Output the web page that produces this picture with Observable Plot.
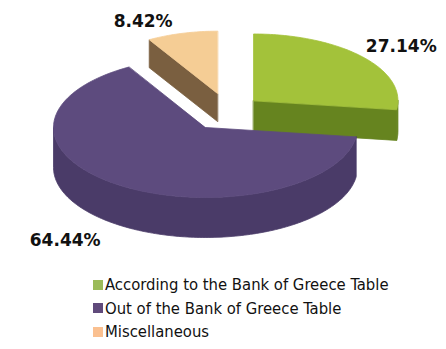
<!DOCTYPE html>
<html>
<head>
<meta charset="utf-8">
<script src="https://cdn.jsdelivr.net/npm/d3@7"></script>
<script src="https://cdn.jsdelivr.net/npm/@observablehq/plot@0.6"></script>
<style>
  html, body { margin: 0; padding: 0; background: #fff; }
  #chart svg { display: block; }
  .legend { margin: 11px 0 0 93px; font-family: "DejaVu Sans Condensed", "DejaVu Sans", sans-serif; font-stretch: condensed; font-size: 16.5px; color: #111; }
  .legend .item { height: 23.5px; line-height: 23.5px; display: flex; align-items: center; }
  .legend .sw { width: 10px; height: 10px; margin-right: 2px; flex: none; }
</style>
</head>
<body>
<div id="chart"></div>
<script>
// ---- data ----
const categories = ["According to the Bank of Greece Table", "Out of the Bank of Greece Table", "Miscellaneous"];
const values = [27.14, 64.44, 8.42];
const valueLabels = ["27.14%", "64.44%", "8.42%"];

// ---- styles / layout ----
const topColors = ["#a3c23a", "#5d4b7e", "#f5cd95"];
const sideColors = ["#66841f", "#4a3b68", "#7a5f40"];
const legendColors = ["#9bbb59", "#604a7b", "#fac090"];
const W = 446, H = 262;
const cx = 205, cy = 127, rx = 152, ry = 70;   // pixel layout of the unit ellipse
const sliceScale = [0.95, 1, 0.89];             // perspective shrink per slice
const sliceDepth = [31, 40, 28].map(d => d / ry); // in y units
const explode = [[0.316, -0.386], [0, 0], [0.079, -0.486]]; // per slice, unit coords
const labelShift = [[39, -10], [-56, 15], [-39, -12]];       // px
const drawOrder = [2, 0, 1];

const arcs = d3.pie().sort(null).startAngle(0).endAngle(2 * Math.PI)(values);

function rimPts(ox, oy, s, t0, t1, dz) {
  const n = Math.max(2, Math.ceil(Math.abs(t1 - t0) / 0.02));
  const pts = [];
  for (let i = 0; i <= n; i++) {
    const t = t0 + (t1 - t0) * i / n;
    pts.push({x: ox + s * Math.sin(t), y: oy - s * Math.cos(t) + dz});
  }
  return pts;
}

const marks = [];
for (const i of drawOrder) {
  const a = arcs[i];
  const [ox, oy] = explode[i];
  const s = sliceScale[i], depth = sliceDepth[i];
  const a0 = a.startAngle, a1 = a.endAngle;
  const polys = [];
  const radial = t => [{x: ox, y: oy}, {x: ox + s * Math.sin(t), y: oy - s * Math.cos(t)},
    {x: ox + s * Math.sin(t), y: oy - s * Math.cos(t) + depth}, {x: ox, y: oy + depth}];
  if (Math.sin(a0) < -1e-6) polys.push(radial(a0));
  if (Math.sin(a1) > 1e-6) polys.push(radial(a1));
  const f0 = Math.max(a0, Math.PI / 2), f1 = Math.min(a1, 3 * Math.PI / 2);
  if (f1 > f0) polys.push([...rimPts(ox, oy, s, f0, f1, 0), ...rimPts(ox, oy, s, f1, f0, depth)]);
  for (const p of polys) {
    marks.push(Plot.line(p, {x: "x", y: "y", fill: sideColors[i], stroke: sideColors[i], strokeWidth: 0.8, curve: "linear-closed"}));
  }
  const top = [{x: ox, y: oy}, ...rimPts(ox, oy, s, a0, a1, 0)];
  marks.push(Plot.line(top, {x: "x", y: "y", fill: topColors[i], stroke: topColors[i], strokeWidth: 0.8, curve: "linear-closed"}));
}

// value labels
const labelData = arcs.map((a, i) => {
  const m = (a.startAngle + a.endAngle) / 2;
  const [ox, oy] = explode[i];
  const s = sliceScale[i];
  const front = Math.cos(m) < 0 ? sliceDepth[i] : 0;
  return {x: ox + s * Math.sin(m), y: oy - s * Math.cos(m) + front, text: valueLabels[i], dx: labelShift[i][0], dy: labelShift[i][1]};
});
for (const d of labelData) {
  marks.push(Plot.text([d], {x: "x", y: "y", text: "text", dx: d.dx, dy: d.dy,
    fontSize: 17, fontWeight: "bold", fill: "#111", fontFamily: "DejaVu Sans"}));
}

const chart = Plot.plot({
  width: W, height: H,
  margin: 0,
  x: {domain: [-1, 1], range: [cx - rx, cx + rx], axis: null},
  y: {domain: [-1, 1], range: [cy - ry, cy + ry], axis: null},
  style: {background: "transparent", overflow: "visible"},
  marks
});
document.getElementById("chart").appendChild(chart);

// legend
const leg = document.createElement("div");
leg.className = "legend";
categories.forEach((c, i) => {
  const it = document.createElement("div");
  it.className = "item";
  const sw = document.createElement("span");
  sw.className = "sw";
  sw.style.background = legendColors[i];
  const tx = document.createElement("span");
  tx.textContent = c;
  it.appendChild(sw); it.appendChild(tx);
  leg.appendChild(it);
});
document.body.appendChild(leg);
</script>
</body>
</html>
